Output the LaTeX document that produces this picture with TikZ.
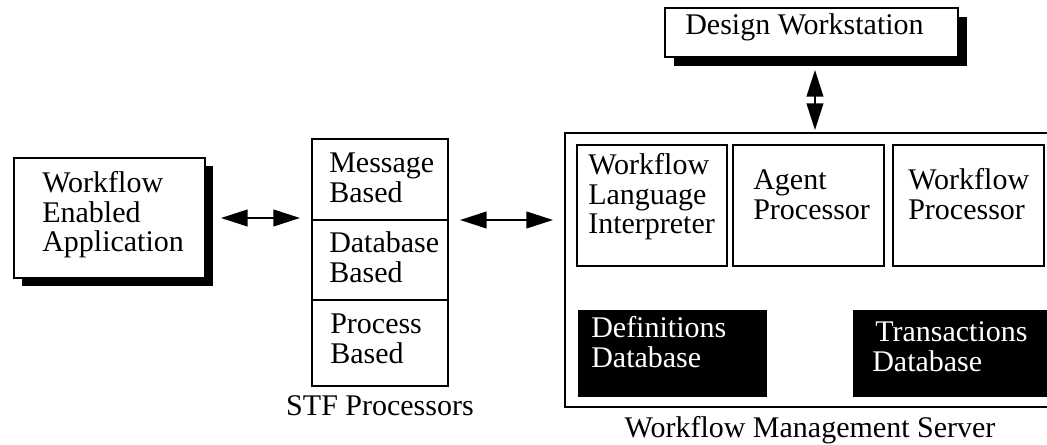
\documentclass[tikz,border=0pt]{standalone}
\usepackage{fontspec}
\setmainfont{Liberation Serif}
\usetikzlibrary{arrows.meta,shadows}
% left-aligned stack of lines whose baseline is the first line's baseline
\newcommand\stacktext[1]{\vtop{\baselineskip=22pt\lineskiplimit=-100pt\lineskip=0pt\halign{##\hfil\cr#1\crcr}}}
\newcommand\pxu{0.75pt}

\begin{document}
\begin{tikzpicture}[x=0.75pt,y=-0.75pt,
  box/.style={draw, line width=1.5pt, fill=white, inner sep=0, outer sep=0},
  shadowbox/.style={box, drop shadow={shadow xshift=#1, shadow yshift=-#1, opacity=1, fill=black}},
  darkbox/.style={fill=black, inner sep=0, outer sep=0},
  txt/.style={inner sep=0, font=\fontsize{22.5}{22}\selectfont, anchor=base west},
  wtxt/.style={txt, text=white},
  dbl/.style={line width=1.5pt, {Triangle[length=20pt,width=12.5pt]}-{Triangle[length=20pt,width=12.5pt]}}
]
\useasboundingbox (0,0) rectangle (1047,445);

% client application
\node[shadowbox=6pt, minimum width=191*\pxu, minimum height=120*\pxu] (wea) at (109.5,218) {};
\node[txt] (twea) at (42,193) {\stacktext{Workflow\cr Enabled\cr Application}};

% STF processor stack
\node[box, minimum width=136*\pxu, minimum height=81*\pxu] (msg) at (380,179.5) {};
\node[box, minimum width=136*\pxu, minimum height=80*\pxu] (dbb) at (380,260) {};
\node[box, minimum width=136*\pxu, minimum height=86*\pxu] (prc) at (380,343) {};
\node[txt] (tmsg) at (329,173) {\stacktext{Message\cr Based}};
\node[txt] (tdbb) at (329,253) {\stacktext{Database\cr Based}};
\node[txt] (tprc) at (330,334) {\stacktext{Process\cr Based}};
\node[txt, anchor=base] (tstf) at (380,416) {STF Processors};

% workflow management server
\node[box, minimum width=505*\pxu, minimum height=274*\pxu] (srv) at (817.5,270) {};
\node[box, minimum width=150*\pxu, minimum height=121*\pxu] (wli) at (652,205.5) {};
\node[box, minimum width=151*\pxu, minimum height=121*\pxu] (agt) at (808.5,205.5) {};
\node[box, minimum width=151*\pxu, minimum height=121*\pxu] (wfp) at (968.5,205.5) {};
\node[darkbox, minimum width=189*\pxu, minimum height=87*\pxu] (ddb) at (672.5,353.5) {};
\node[darkbox, minimum width=197*\pxu, minimum height=87*\pxu] (tdb) at (951.5,353.5) {};
\node[txt] (twli) at (588,175) {\stacktext{Workflow\cr Language\cr Interpreter}};
\node[txt] (tagt) at (753,190) {\stacktext{Agent\cr Processor}};
\node[txt] (twfp) at (908,190) {\stacktext{Workflow\cr Processor}};
\node[wtxt] (tddb) at (591,338) {\stacktext{Definitions\cr Database}};
\node[wtxt] (ttdb) at (875,342) {Transactions};
\node[wtxt] (ttdb2) at (872,372) {Database};
\node[txt, anchor=base] (tsrv) at (810,438) {Workflow Management Server};

% design workstation
\node[shadowbox=6.75pt, minimum width=293*\pxu, minimum height=49*\pxu] (dw) at (811.5,32.5) {};
\node[txt] (tdw) at (685,35) {Design Workstation};

% connectors
\draw[dbl, shorten <=16*\pxu, shorten >=12*\pxu] (wea.east) -- (wea.east -| msg.west);
\draw[dbl, shorten <=12*\pxu, shorten >=12*\pxu] (msg.south east) -- (msg.south east -| srv.west);
\draw[dbl, shorten <=13*\pxu, shorten >=3*\pxu] ([xshift=2.6pt]dw.south) -- ([xshift=2.6pt]dw.south |- srv.north);
\end{tikzpicture}
\end{document}
